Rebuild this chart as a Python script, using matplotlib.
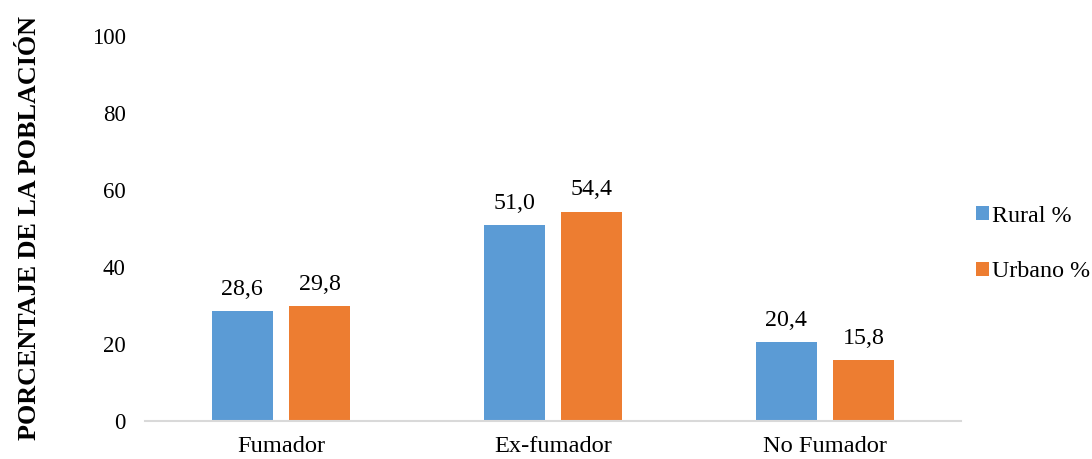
import matplotlib
matplotlib.use("Agg")
import matplotlib.pyplot as plt
import numpy as np

categories = ["Fumador", "Ex-fumador", "No Fumador"]
rural = [28.6, 51.0, 20.4]
urbano = [29.8, 54.4, 15.8]
series_names = ["Rural %", "Urbano %"]
colors = ["#5B9BD5", "#ED7D31"]
yticks = [0, 20, 40, 60, 80, 100]

plt.rcParams['font.family'] = ['Liberation Serif', 'DejaVu Serif']

fig = plt.figure(figsize=(10.92, 4.59), dpi=100)
ax = fig.add_axes([145/1092, 1-421/459, (961-145)/1092, (421-36)/459])

x = np.arange(len(categories))
w = 0.224
off = 0.1425
b1 = ax.bar(x - off, rural, w, color=colors[0], label=series_names[0])
b2 = ax.bar(x + off, urbano, w, color=colors[1], label=series_names[1])

for bars, vals in ((b1, rural), (b2, urbano)):
    for rect, v in zip(bars, vals):
        ax.annotate(f"{v:.1f}".replace(".", ","),
                    (rect.get_x() + rect.get_width()/2, v),
                    xytext=(0, 8), textcoords="offset points",
                    ha="center", va="bottom", fontsize=17.3)

ax.set_xlim(-0.5, 2.5)
ax.set_ylim(0, 100)
ax.set_yticks(yticks)
ax.set_xticks(x)
ax.set_xticklabels(categories, fontsize=17.6)
ax.tick_params(axis='y', labelsize=16.5, length=0, pad=14)
ax.tick_params(axis='x', length=0, pad=11)
for s in ["top", "right", "left"]:
    ax.spines[s].set_visible(False)
ax.spines["bottom"].set_color("#D9D9D9")
ax.spines["bottom"].set_linewidth(1.5)

fig.text(30/1092, 1-228/459, "PORCENTAJE DE LA POBLACIÓN", rotation=90,
         ha="center", va="center", fontsize=18.8, fontweight="bold")

leg = fig.legend(handles=[b1, b2], labels=series_names, loc="center left",
                 bbox_to_anchor=(954/1092, 1-244/459), frameon=False,
                 fontsize=17.3, handlelength=0.55, handleheight=0.55,
                 handletextpad=0.15, labelspacing=1.45)

fig.savefig("out.png", dpi=100)
